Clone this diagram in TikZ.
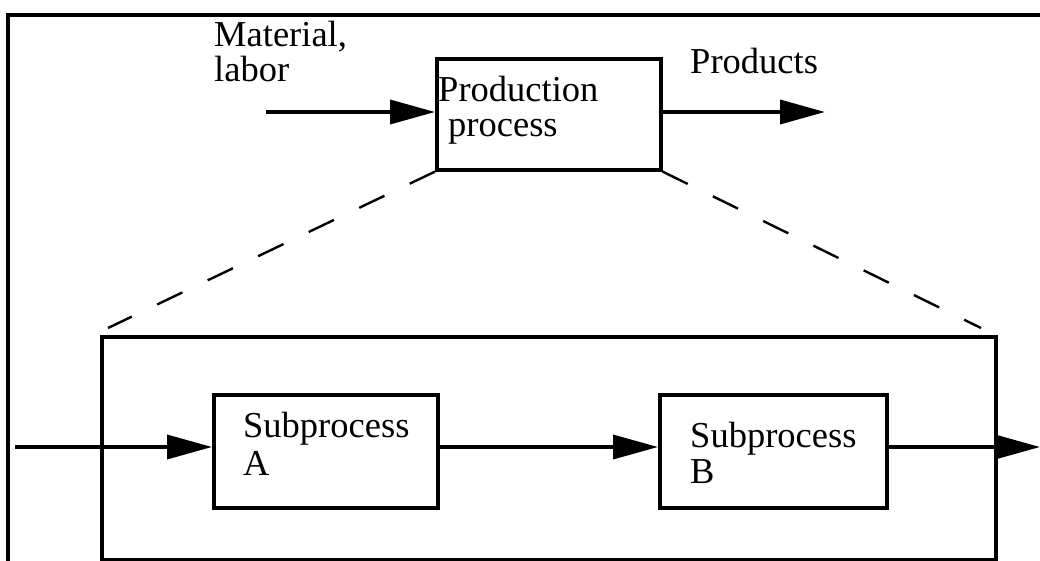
\documentclass[tikz,border=0pt]{standalone}
\usepackage{fontspec}
\setmainfont{Liberation Serif}
\usetikzlibrary{arrows.meta}
\begin{document}
\begin{tikzpicture}[x=1pt,y=-1pt,
  boxline/.style={line width=3.6pt},
  procbox/.style={draw,boxline,rectangle,inner sep=0pt,anchor=north west},
  flow/.style={line width=3.6pt,-{Triangle[length=45pt,width=24pt]}},
  zoomline/.style={line width=2.4pt,dash pattern=on 28pt off 28pt},
  lbl/.style={font=\fontsize{36.5pt}{36pt}\selectfont,inner sep=0pt,anchor=base west,align=left}]
\useasboundingbox (0,0) rectangle (1040,561);
% outer frame (clipped)
\draw[boxline] (8,561) -- (8,15) -- (1040,15);
% top level
\node[procbox,minimum width=224pt,minimum height=111pt] (prod) at (435,57) {};
\node[lbl,font=\fontsize{36.5pt}{35pt}\selectfont] (prodtxt) at (438,137) {Production\\\hspace*{10pt}process};
\coordinate (inS) at (266,112);
\coordinate (outE) at (825,112);
\draw[flow] (inS) -- (inS -| prod.west);
\draw[flow] (outE -| prod.east) -- (outE);
\node[lbl,font=\fontsize{36.5pt}{35pt}\selectfont] (mat) at (214,82) {Material,\\labor};
\node[lbl] (prodlbl) at (690,74) {Products};
% expansion
\node[procbox,minimum width=894pt,minimum height=223pt] (big) at (100,335) {};
\coordinate (dl) at (108,328);
\coordinate (dr) at (981,328);
\draw[zoomline] (prod.south west) -- (dl);
\draw[zoomline] (prod.south east) -- (dr);
% subprocesses
\node[procbox,minimum width=224pt,minimum height=113pt] (A) at (212,393) {};
\node[procbox,minimum width=227pt,minimum height=113pt] (B) at (658,393) {};
\node[lbl,font=\fontsize{36.5pt}{38pt}\selectfont] (Atxt) at (243,475) {Subprocess\\A};
\node[lbl,font=\fontsize{36.5pt}{36pt}\selectfont] (Btxt) at (690,483) {Subprocess\\B};
\coordinate (inL) at (15,447);
\coordinate (outR) at (1040,447);
\draw[flow] (inL) -- (inL -| A.west);
\draw[flow] (inL -| A.east) -- (inL -| B.west);
\draw[flow] (inL -| B.east) -- (outR);
\end{tikzpicture}
\end{document}
